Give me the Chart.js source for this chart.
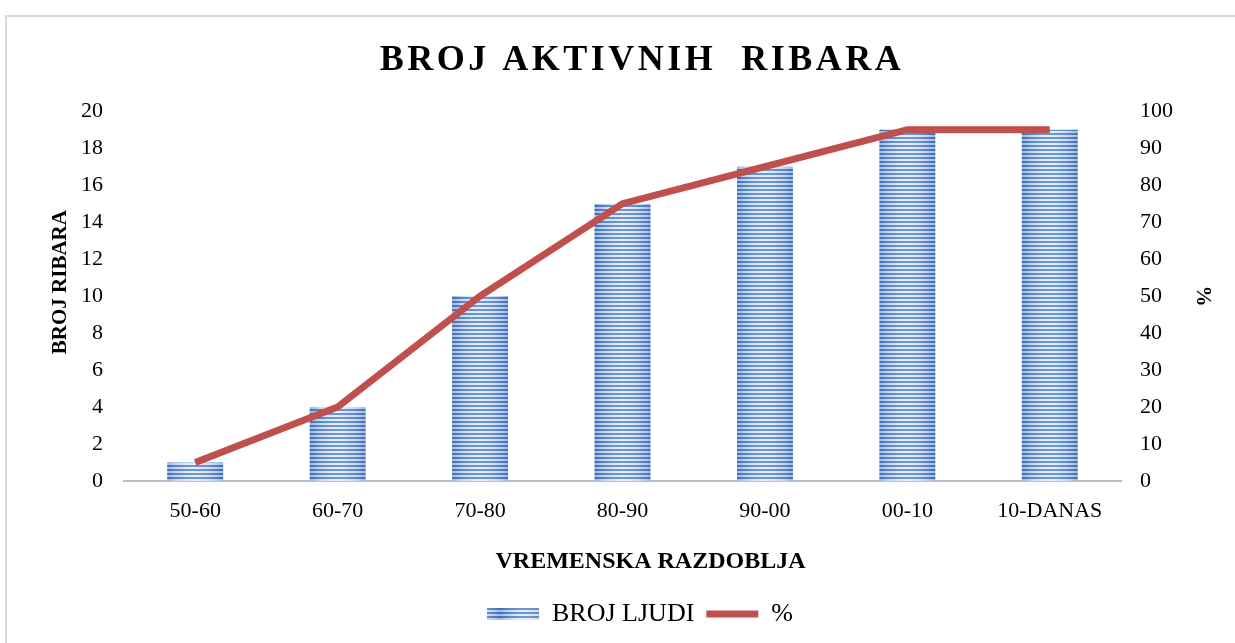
<!DOCTYPE html>
<html>
<head>
<meta charset="utf-8">
<script src="https://cdn.jsdelivr.net/npm/chart.js@4.4.1/dist/chart.umd.min.js"></script>
<style>
  html, body { margin: 0; padding: 0; background: #ffffff; }
  #wrap { position: relative; width: 1235px; height: 643px; overflow: hidden; }
  #frame { position: absolute; left: 5px; top: 15px; width: 1300px; height: 700px;
           border-left: 2px solid #d9d9d9; border-top: 2px solid #d9d9d9; box-sizing: border-box; }
  #c { position: absolute; left: 0; top: 0; }
</style>
</head>
<body>
<div id="wrap">
  <div id="frame"></div>
  <canvas id="c" width="1235" height="643"></canvas>
</div>
<script>
const categories = ['50-60', '60-70', '70-80', '80-90', '90-00', '00-10', '10-DANAS'];
const brojLjudi = [1, 4, 10, 15, 17, 19, 19];
const postotak = [5, 20, 50, 75, 85, 95, 95];
const leftTicks = [0, 2, 4, 6, 8, 10, 12, 14, 16, 18, 20];
const rightTicks = [0, 10, 20, 30, 40, 50, 60, 70, 80, 90, 100];

const SERIF = '"Liberation Serif", "Times New Roman", serif';

function mix(a, b, t) {
  return a.map((v, i) => Math.round(v + (b[i] - v) * t));
}
function makeStripePattern(w) {
  const pc = document.createElement('canvas');
  pc.width = w; pc.height = 4;
  const g = pc.getContext('2d');
  const darkC = [110, 150, 210], darkE = [65, 108, 178];
  const lightC = [228, 237, 249], lightE = [155, 185, 225];
  for (let x = 0; x < w; x++) {
    const t = Math.min(1, Math.abs(x + 0.5 - w / 2) / (w / 2));
    const tt = t * t;
    const d = mix(darkC, darkE, tt), l = mix(lightC, lightE, tt);
    g.fillStyle = `rgb(${d[0]},${d[1]},${d[2]})`;
    g.fillRect(x, 0, 1, 2);
    g.fillStyle = `rgb(${l[0]},${l[1]},${l[2]})`;
    g.fillRect(x, 2, 1, 2);
  }
  return pc;
}
const BAR_W = 56;
const stripeCanvas = makeStripePattern(BAR_W);
const ctx2d = document.getElementById('c').getContext('2d');
const legendPattern = ctx2d.createPattern(makeStripePattern(50), 'repeat');

function barFill(context) {
  const chart = context.chart;
  const pat = chart.ctx.createPattern(stripeCanvas, 'repeat');
  try {
    if (context.type === 'data' && chart.scales && chart.scales.x) {
      const cx = chart.scales.x.getPixelForValue(context.dataIndex);
      pat.setTransform(new DOMMatrix().translate(Math.round(cx - BAR_W / 2), 1));
    }
  } catch (e) {}
  return pat;
}

const chart = new Chart(ctx2d, {
  data: {
    labels: categories,
    datasets: [
      {
        type: 'line',
        label: '%',
        data: postotak,
        yAxisID: 'y2',
        borderColor: '#C0504D',
        backgroundColor: '#C0504D',
        borderWidth: 7,
        pointRadius: 0,
        pointStyle: 'line',
        tension: 0,
        order: 0
      },
      {
        type: 'bar',
        label: 'BROJ LJUDI',
        data: brojLjudi,
        yAxisID: 'y',
        backgroundColor: barFill,
        borderWidth: 0,
        barPercentage: 0.393,
        categoryPercentage: 1,
        pointStyle: 'rect',
        order: 1
      }
    ]
  },
  options: {
    responsive: false,
    animation: false,
    layout: { padding: { left: 45, right: 0, top: 15, bottom: 6 } },
    plugins: {
      title: {
        display: true,
        text: 'BROJ AKTIVNIH  RIBARA',
        color: '#000000',
        font: { family: SERIF, size: 36, weight: 'bold' },
        padding: { top: 24, bottom: 29 }
      },
      legend: {
        position: 'bottom',
        reverse: true,
        labels: {
          color: '#000000',
          font: { family: SERIF, size: 26 },
          usePointStyle: true,
          pointStyleWidth: 52,
          boxHeight: 12,
          padding: 12,
          generateLabels(chart) {
            const items = Chart.defaults.plugins.legend.labels.generateLabels(chart);
            items.forEach(it => {
              if (it.datasetIndex === 1) { it.fillStyle = legendPattern; it.lineWidth = 0; }
            });
            return items;
          }
        }
      },
      tooltip: { enabled: false }
    },
    scales: {
      x: {
        type: 'category',
        grid: { display: false, drawTicks: false },
        border: { display: true, color: '#bfbfbf', width: 2 },
        ticks: { color: '#000000', font: { family: SERIF, size: 22 }, padding: 17, maxRotation: 0 },
        title: {
          display: true,
          text: 'VREMENSKA RAZDOBLJA',
          color: '#000000',
          font: { family: SERIF, size: 24, weight: 'bold' },
          padding: { top: 20, bottom: 13 }
        },
        afterFit(scale) { scale.height = 108; }
      },
      y: {
        position: 'left',
        min: 0, max: 20,
        afterBuildTicks(scale) { scale.ticks = leftTicks.map(v => ({ value: v })); },
        grid: { display: false, drawTicks: false },
        border: { display: false },
        ticks: { color: '#000000', font: { family: SERIF, size: 22 }, padding: 21 },
        title: {
          display: true,
          text: 'BROJ RIBARA',
          color: '#000000',
          font: { family: SERIF, size: 21, weight: 'bold' },
          padding: { top: 3, bottom: 0 }
        },
        afterFit(scale) { scale.width = 79; }
      },
      y2: {
        position: 'right',
        min: 0, max: 100,
        afterBuildTicks(scale) { scale.ticks = rightTicks.map(v => ({ value: v })); },
        grid: { display: false, drawTicks: false },
        border: { display: false },
        ticks: { color: '#000000', font: { family: SERIF, size: 22 }, padding: 19 },
        title: {
          display: true,
          text: '%',
          color: '#000000',
          font: { family: SERIF, size: 21, weight: 'bold' },
          padding: { top: 20, bottom: 0 }
        },
        afterFit(scale) { scale.width = 114; }
      }
    }
  }
});

// small offsets to match the reference placement of titles
function shiftDraw(obj, method, dx, dy, spacing) {
  if (!obj || typeof obj[method] !== 'function') return;
  const orig = obj[method].bind(obj);
  obj[method] = function (...args) {
    const c = chart.ctx;
    c.save();
    if (spacing) { try { c.letterSpacing = spacing; } catch (e) {} }
    c.translate(dx, dy);
    orig(...args);
    c.restore();
  };
}
shiftDraw(chart.titleBlock, 'draw', 2, 0, '3.5px');
shiftDraw(chart.scales.x, 'drawTitle', 28, 0);
shiftDraw(chart.scales.y, 'drawTitle', 0, -14);
chart.draw();
</script>
</body>
</html>
